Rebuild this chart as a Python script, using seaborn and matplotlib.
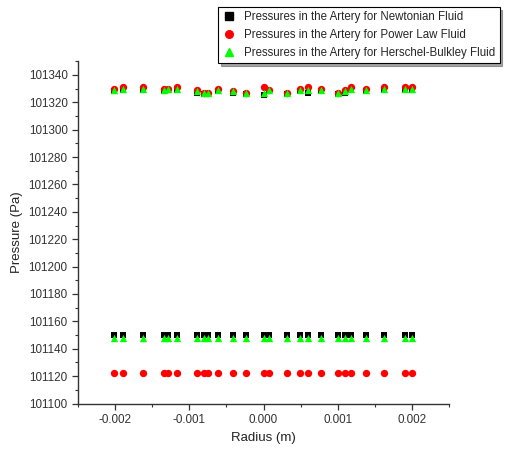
import numpy as np
import pandas as pd
import matplotlib
matplotlib.use("Agg")
import matplotlib.pyplot as plt
import seaborn as sns
from matplotlib.ticker import MultipleLocator

# radius positions (m), shared by every series
radius = [-0.00201, -0.0019, -0.00162, -0.00134, -0.00129, -0.00117, -0.00089, -0.0008,
          -0.00075, -0.00062, -0.00041, -0.00023, 0.0, 0.00007, 0.00031, 0.00049,
          0.0006, 0.00077, 0.00101, 0.0011, 0.00118, 0.00138, 0.00162, 0.00191, 0.002]

# upper cluster (Pa)
newton_top = [101328, 101329, 101329, 101328, 101329, 101329, 101327, 101326, 101326, 101328,
              101327, 101326, 101325, 101328, 101326, 101328, 101327, 101328, 101326, 101327,
              101329, 101328, 101329, 101329, 101329]
power_top = [101330, 101331, 101331, 101330, 101330, 101331, 101329, 101327, 101327, 101330,
             101328, 101327, 101331, 101329, 101327, 101330, 101331, 101330, 101327, 101329,
             101331, 101330, 101331, 101331, 101331]
hb_top = [101329, 101330, 101330, 101329, 101330, 101330, 101328, 101327, 101327, 101329,
          101328, 101327, 101327, 101329, 101327, 101329, 101329, 101329, 101327, 101328,
          101330, 101329, 101330, 101330, 101330]

# lower cluster (Pa)
newton_low = [101150] * len(radius)
power_low = [101122] * len(radius)
hb_low = [101147.5] * len(radius)

labels = ["Pressures in the Artery for Newtonian Fluid",
          "Pressures in the Artery for Power Law Fluid",
          "Pressures in the Artery for Herschel-Bulkley Fluid"]

frames = []
for lab, top, low in zip(labels, [newton_top, power_top, hb_top], [newton_low, power_low, hb_low]):
    frames.append(pd.DataFrame({"Radius": radius + radius, "Pressure": top + low, "Fluid": lab}))
df = pd.concat(frames, ignore_index=True)

sns.set_style("ticks")
plt.rcParams["font.family"] = ["Liberation Sans", "DejaVu Sans"]

fig = plt.figure(figsize=(5.08, 4.57), dpi=100)
ax = fig.add_axes([0.1535, 0.117, 0.7305, 0.749])

palette = {labels[0]: "black", labels[1]: "#ff0000", labels[2]: "#00ff00"}
markers = {labels[0]: "s", labels[1]: "o", labels[2]: "^"}
sizes = {labels[0]: 22, labels[1]: 28, labels[2]: 28}

for lab in labels:
    sns.scatterplot(data=df[df["Fluid"] == lab], x="Radius", y="Pressure", color=palette[lab],
                    marker=markers[lab], s=sizes[lab], linewidth=0, ax=ax, label=lab, legend=False)

ax.set_xlim(-0.0025, 0.0025)
ax.set_ylim(101100, 101350)
ax.set_xticks([-0.002, -0.001, 0.0, 0.001, 0.002])
ax.set_xticklabels(["-0.002", "-0.001", "0.000", "0.001", "0.002"])
ax.set_yticks(np.arange(101100, 101341, 20))
ax.xaxis.set_minor_locator(MultipleLocator(0.0005))
ax.yaxis.set_minor_locator(MultipleLocator(10))
ax.tick_params(which="major", length=4, width=0.9, labelsize=8.4, colors="#333333", labelcolor="#333333")
ax.tick_params(which="minor", length=2, width=0.8, colors="#333333")
for s in ["left", "bottom"]:
    ax.spines[s].set_color("#333333")
    ax.spines[s].set_linewidth(1.0)
sns.despine(ax=ax)

ax.set_xlabel("Radius (m)", fontsize=9.5, color="#222222")
ax.set_ylabel("Pressure (Pa)", fontsize=9.5, color="#222222")

handles = [plt.Line2D([], [], linestyle="", marker=markers[l], color=palette[l],
                      markersize=5.5) for l in labels]
leg = fig.legend(handles, labels, loc="upper right", bbox_to_anchor=(0.995, 0.997),
                 fontsize=8.3, frameon=True, fancybox=False, shadow=True,
                 edgecolor="black", handletextpad=0.7, borderpad=0.35, labelspacing=0.5,
                 handlelength=1.2)
leg.get_frame().set_linewidth(0.8)

fig.savefig("out.png", dpi=100)
